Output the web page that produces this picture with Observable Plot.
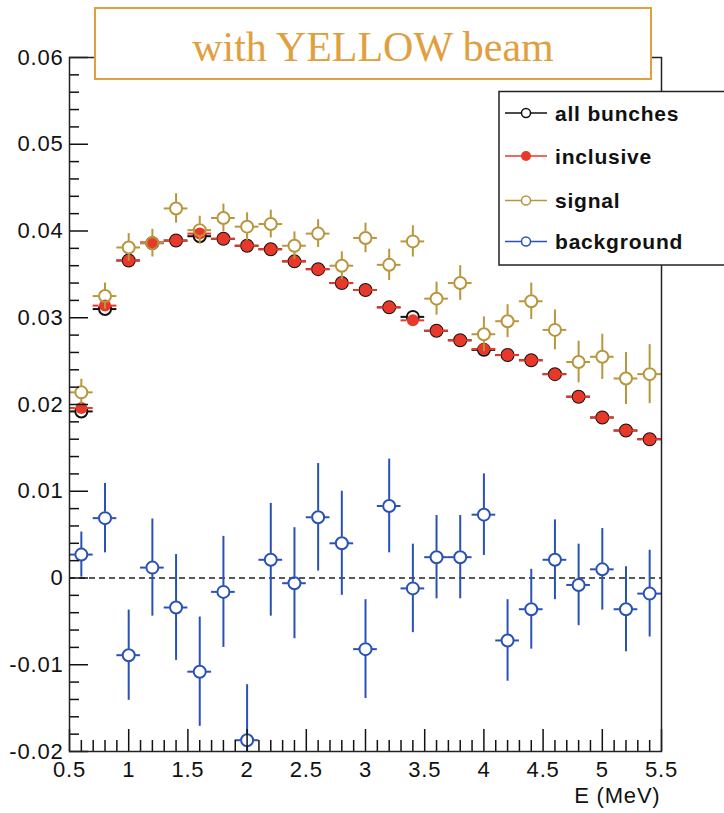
<!DOCTYPE html>
<html><head><meta charset="utf-8">
<script src="https://cdn.jsdelivr.net/npm/d3@7"></script>
<script src="https://cdn.jsdelivr.net/npm/@observablehq/plot@0.6"></script>
<style>body{margin:0;background:#fff} svg{display:block}</style>
</head><body><div id="chart"></div>
<script>
// ---- data ----
const energy = [0.6,0.8,1.0,1.2,1.4,1.6,1.8,2.0,2.2,2.4,2.6,2.8,3.0,3.2,3.4,3.6,3.8,4.0,4.2,4.4,4.6,4.8,5.0,5.2,5.4];
const binHalfWidth = 0.1;
const allBunches = [0.0192,0.0310,0.0366,0.0386,0.0389,0.0394,0.0391,0.0383,0.0379,0.0365,0.0356,0.0340,0.0332,0.0312,0.0301,0.0285,0.0274,0.0263,0.0257,0.0251,0.0235,0.0209,0.0185,0.0170,0.0160];
const inclusive  = [0.0196,0.0314,0.0366,0.0387,0.0389,0.0397,0.0391,0.0383,0.0379,0.0365,0.0356,0.0340,0.0332,0.0312,0.0297,0.0285,0.0274,0.0264,0.0257,0.0251,0.0235,0.0209,0.0185,0.0170,0.0160];
const signal     = [0.0214,0.0325,0.0381,0.0386,0.0426,0.0401,0.0415,0.0405,0.0408,0.0383,0.0397,0.0360,0.0392,0.0361,0.0388,0.0322,0.0340,0.0281,0.0296,0.0319,0.0286,0.0249,0.0255,0.0230,0.0235];
const signalErr  = [0.0015,0.0015,0.0016,0.0016,0.0017,0.0016,0.0016,0.0016,0.0016,0.0016,0.0016,0.0016,0.0017,0.0018,0.0018,0.0019,0.0020,0.0020,0.0019,0.0021,0.0023,0.0024,0.0026,0.0030,0.0034];
const background = [0.0027,0.0069,-0.0089,0.0012,-0.0034,-0.0108,-0.0016,-0.0187,0.0021,-0.0006,0.0070,0.0040,-0.0082,0.0083,-0.0012,0.0024,0.0024,0.0073,-0.0072,-0.0036,0.0021,-0.0008,0.0010,-0.0036,-0.0018];
const backgroundErr = [0.0026,0.0040,0.0052,0.0056,0.0061,0.0063,0.0064,0.0064,0.0065,0.0064,0.0062,0.0060,0.0057,0.0054,0.0051,0.0048,0.0048,0.0047,0.0047,0.0046,0.0046,0.0047,0.0047,0.0049,0.0050];

const xTicks = [0.5,1,1.5,2,2.5,3,3.5,4,4.5,5,5.5];
const xTickLabels = ["0.5","1","1.5","2","2.5","3","3.5","4","4.5","5","5.5"];
const yTicks = [-0.02,-0.01,0,0.01,0.02,0.03,0.04,0.05,0.06];
const yTickLabels = ["-0.02","-0.01","0","0.01","0.02","0.03","0.04","0.05","0.06"];
const xMinorTicks = d3.range(5, 56).map(v => v / 10).filter(v => !xTicks.some(t => Math.abs(t - v) < 1e-9));
const yMinorTicks = d3.range(-10, 31).map(v => v / 500).filter(v => !yTicks.some(t => Math.abs(t - v) < 1e-9));

const title = "with YELLOW beam";
const xLabel = "E (MeV)";
const seriesNames = ["all bunches","inclusive","signal","background"];
const colors = {black:"#111111", red:"#e8382a", gold:"#b9963c", blue:"#2a52b4", title:"#e0a040"};

const rows = (vals, errs) => energy.map((x, i) => ({x, y: vals[i], e: errs ? errs[i] : 0, xe: binHalfWidth}));
const allRows = rows(allBunches), incRows = rows(inclusive), sigRows = rows(signal, signalErr), bkgRows = rows(background, backgroundErr);

function errorBars(data, {stroke, r, strokeWidth = 2, vertical = true}) {
  const common = {stroke, strokeWidth, clip: true};
  const m = [
    Plot.ruleY(data, {...common, y: "y", x1: d => d.x - d.xe, x2: "x", insetRight: r}),
    Plot.ruleY(data, {...common, y: "y", x1: "x", x2: d => d.x + d.xe, insetLeft: r})
  ];
  if (vertical) {
    m.push(Plot.ruleX(data, {...common, x: "x", y1: d => d.y + d.e, y2: "y", insetBottom: r}));
    m.push(Plot.ruleX(data, {...common, x: "x", y1: "y", y2: d => d.y - d.e, insetTop: r}));
  }
  return m;
}

const R = 6;
const plot = Plot.plot({
  width: 724, height: 813,
  marginTop: 57, marginRight: 63, marginBottom: 62, marginLeft: 69,
  x: {domain: [0.5, 5.5], label: null},
  y: {domain: [-0.02, 0.06], label: null},
  style: {fontFamily: "'Liberation Sans', Arial, sans-serif", fontSize: "22px", background: "#fff", color: "#111", overflow: "visible"},
  marks: [
    Plot.ruleY([0], {stroke: "#222", strokeWidth: 1.5, strokeDasharray: "6,4"}),
    // all bunches (black open)
    ...errorBars(allRows, {stroke: colors.black, r: R, vertical: false}),
    Plot.dot(allRows, {x: "x", y: "y", r: R, stroke: colors.black, strokeWidth: 2, fill: "none"}),
    // inclusive (red filled)
    ...errorBars(incRows, {stroke: colors.red, r: R, vertical: false}),
    Plot.dot(incRows, {x: "x", y: "y", r: R, fill: colors.red, stroke: "none"}),
    // signal (gold open)
    ...errorBars(sigRows, {stroke: colors.gold, r: R}),
    Plot.dot(sigRows, {x: "x", y: "y", r: R, stroke: colors.gold, strokeWidth: 2, fill: "none"}),
    // background (blue open)
    ...errorBars(bkgRows, {stroke: colors.blue, r: R}),
    Plot.dot(bkgRows, {x: "x", y: "y", r: R, stroke: colors.blue, strokeWidth: 2, fill: "none", clip: true}),
    // axes: inward ticks (ROOT style)
    Plot.axisX(xTicks, {anchor: "bottom", tickSize: -22, tickFormat: () => "", label: null, strokeWidth: 1.5}),
    Plot.axisX(xMinorTicks, {anchor: "bottom", tickSize: -11, tickFormat: () => "", label: null, strokeWidth: 1.5}),
    Plot.axisX(xTicks, {anchor: "bottom", tickSize: 0, tickPadding: 10, label: null, fontSize: 22,
      tickFormat: d => xTickLabels[xTicks.indexOf(d)]}),
    Plot.axisY(yTicks, {anchor: "left", tickSize: -19, tickFormat: () => "", label: null, strokeWidth: 1.5}),
    Plot.axisY(yMinorTicks, {anchor: "left", tickSize: -10, tickFormat: () => "", label: null, strokeWidth: 1.5}),
    Plot.axisY(yTicks, {anchor: "left", tickSize: 0, tickPadding: 6, label: null, fontSize: 22,
      tickFormat: d => yTickLabels[yTicks.indexOf(d)]}),
    Plot.frame({stroke: "#222", strokeWidth: 1.5}),
    Plot.text([xLabel], {text: d => d, frameAnchor: "bottom-right", dy: 51, dx: -1, textAnchor: "end", fontSize: 22, fill: "#111"})
  ]
});
document.getElementById("chart").appendChild(plot);

// slightly wider letter spacing, like the reference's rendering
d3.select(plot).selectAll("g[aria-label='x-axis tick label'] text, g[aria-label='y-axis tick label'] text, g[aria-label='text'] text")
  .attr("letter-spacing", "0.8px");

// ---- title box and legend (ROOT TPaveText / TLegend look) ----
const svg = d3.select(plot);
const tg = svg.append("g").attr("text-anchor", "middle");
tg.append("rect").attr("x", 95).attr("y", 8).attr("width", 556).attr("height", 71)
  .attr("fill", "#fff").attr("stroke", colors.title).attr("stroke-width", 2);
tg.append("text").attr("x", 373).attr("y", 61).attr("text-anchor", "middle")
  .attr("font-family", "'Liberation Serif', 'Times New Roman', serif").attr("font-size", 42)
  .attr("fill", colors.title).text(title);

const lg = svg.append("g").attr("text-anchor", "start");
lg.append("rect").attr("x", 499).attr("y", 91.5).attr("width", 260).attr("height", 173.5)
  .attr("fill", "#fff").attr("stroke", "#222").attr("stroke-width", 1.5);
const entryY = [113, 156, 200.5, 241.5];
const entryStyle = [
  {stroke: colors.black, fill: "#fff"},
  {stroke: colors.red, fill: colors.red},
  {stroke: colors.gold, fill: "#fff"},
  {stroke: colors.blue, fill: "#fff"}
];
seriesNames.forEach((name, i) => {
  const g = lg.append("g");
  g.append("line").attr("x1", 505).attr("x2", 547).attr("y1", entryY[i]).attr("y2", entryY[i])
    .attr("stroke", entryStyle[i].stroke).attr("stroke-width", 1.5);
  g.append("circle").attr("cx", 526).attr("cy", entryY[i]).attr("r", i === 1 ? 5 : 4.5)
    .attr("fill", entryStyle[i].fill).attr("stroke", i === 1 ? "none" : entryStyle[i].stroke).attr("stroke-width", 1.5);
  g.append("text").attr("x", 555).attr("y", entryY[i] + 7.5).attr("text-anchor", "start")
    .attr("font-family", "'Liberation Sans', Arial, sans-serif").attr("font-weight", "bold")
    .attr("font-size", 21).attr("letter-spacing", "0.8px").attr("fill", "#111").text(name);
});
</script>
</body></html>
